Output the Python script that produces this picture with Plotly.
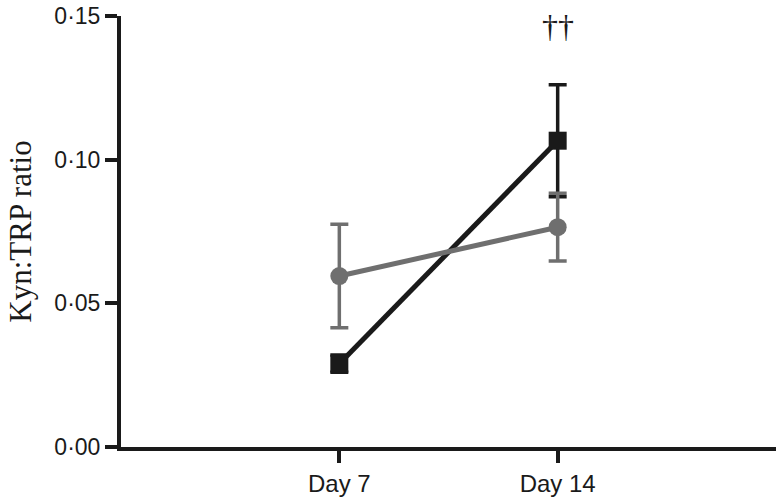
import plotly.graph_objects as go

# Kyn:TRP ratio by day, two groups
days = ['Day 7', 'Day 14']
black_mean = [0.029, 0.1066]
black_err = [0.003, 0.0195]
gray_mean = [0.0595, 0.0765]
gray_err = [0.018, 0.0118]

y_ticks = [0.0, 0.05, 0.10, 0.15]
y_tick_text = ['0·00', '0·05', '0·10', '0·15']

BLACK = '#1a1a1a'
GRAY = '#6f6f6f'

fig = go.Figure()

fig.add_trace(go.Scatter(
    x=days, y=black_mean,
    mode='lines+markers',
    line=dict(color=BLACK, width=5),
    marker=dict(symbol='square', size=18, color=BLACK),
    error_y=dict(type='data', array=black_err, color=BLACK, thickness=3.5, width=9),
    showlegend=False,
))

fig.add_trace(go.Scatter(
    x=days, y=gray_mean,
    mode='lines+markers',
    line=dict(color=GRAY, width=5),
    marker=dict(symbol='circle', size=18, color=GRAY),
    error_y=dict(type='data', array=gray_err, color=GRAY, thickness=3.5, width=9),
    showlegend=False,
))

fig.add_annotation(
    x='Day 14', y=0.1465, text='††', showarrow=False,
    font=dict(family='Liberation Serif', size=32, color=BLACK),
)

fig.update_layout(
    width=779, height=503,
    margin=dict(l=121, r=3, t=9, b=56),
    plot_bgcolor='white',
    paper_bgcolor='white',
    font=dict(family='Liberation Sans, Arial', color=BLACK),
    xaxis=dict(
        type='category',
        range=[-1, 2],
        showline=True, linecolor=BLACK, linewidth=4,
        ticks='outside', ticklen=12, tickwidth=4, tickcolor=BLACK,
        tickfont=dict(size=24, color=BLACK),
        ticklabeloverflow='allow',
        showgrid=False, zeroline=False,
    ),
    yaxis=dict(
        range=[0, 0.15],
        tickvals=y_ticks, ticktext=y_tick_text,
        showline=True, linecolor=BLACK, linewidth=4,
        ticks='outside', ticklen=12, tickwidth=4, tickcolor=BLACK,
        tickfont=dict(size=23, color=BLACK),
        ticklabeloverflow='allow',
        showgrid=False, zeroline=False,
        title=dict(text='Kyn:TRP ratio', standoff=15,
                   font=dict(family='Liberation Serif', size=31, color=BLACK)),
    ),
)

# drop the browser's default body margin so the figure sits at the page corner
fig.write_html('out.html', config={'displayModeBar': False},
               post_script="document.body.style.margin = '0';")
